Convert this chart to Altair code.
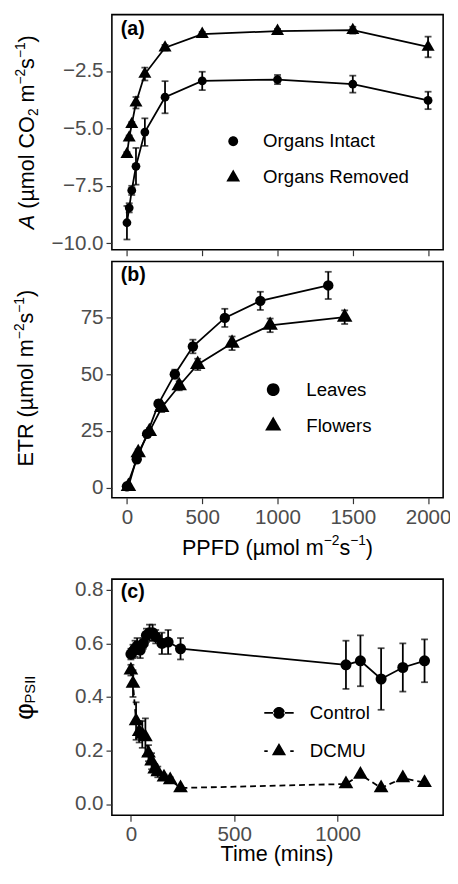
import altair as alt
import pandas as pd

FONT = "Liberation Sans"

# ---------------- panel (a): net CO2 assimilation ----------------
a_groups = ["Organs Intact", "Organs Removed"]
a_ppfd = [0, 15, 32, 60, 119, 253, 500, 1000, 1500, 2000]
a_intact = [-9.11, -8.46, -7.70, -6.65, -5.16, -3.64, -2.93, -2.87, -3.07, -3.78]
a_intact_err = [0.73, 0.2, 0.2, 0.8, 0.6, 0.7, 0.4, 0.2, 0.37, 0.38]
a_removed = [-6.13, -5.41, -4.82, -3.88, -2.63, -1.48, -0.89, -0.76, -0.72, -1.45]
a_removed_err = [0.1, 0.1, 0.1, 0.25, 0.28, 0.12, 0.1, 0.1, 0.15, 0.45]

# ---------------- panel (b): ETR ----------------
b_groups = ["Leaves", "Flowers"]
b_leaves_ppfd = [0, 65, 134, 210, 318, 438, 650, 886, 1337]
b_leaves = [0.6, 12.5, 23.7, 37.0, 50.0, 62.2, 74.8, 82.3, 89.1]
b_leaves_err = [0.3, 1.5, 1.5, 1.5, 2.0, 3.0, 4.0, 4.0, 6.0]
b_flowers_ppfd = [10, 75, 149, 231, 347, 470, 698, 951, 1446]
b_flowers = [0.5, 15.4, 24.7, 35.3, 44.9, 54.3, 63.6, 71.5, 75.1]
b_flowers_err = [0.3, 1.5, 1.5, 2.0, 2.0, 2.5, 3.0, 3.0, 3.0]

# ---------------- panel (c): PSII yield over time ----------------
c_groups = ["Control", "DCMU"]
c_control_t = [0, 10, 20, 30, 45, 60, 75, 90, 105, 120, 150, 180, 240, 1040, 1110, 1210, 1315, 1420]
c_control = [0.56, 0.57, 0.58, 0.59, 0.575, 0.60, 0.63, 0.64, 0.64, 0.625, 0.60, 0.605, 0.58,
             0.52, 0.535, 0.467, 0.51, 0.535]
c_control_err = [0.02, 0.025, 0.03, 0.03, 0.03, 0.02, 0.025, 0.03, 0.03, 0.025, 0.04, 0.045, 0.04,
                 0.09, 0.095, 0.115, 0.09, 0.08]
c_dcmu_t = [0, 10, 25, 40, 55, 70, 85, 100, 115, 130, 160, 190, 240, 1040, 1110, 1210, 1315, 1420]
c_dcmu = [0.50, 0.45, 0.31, 0.27, 0.26, 0.25, 0.19, 0.16, 0.13, 0.12, 0.10, 0.09, 0.06,
          0.075, 0.11, 0.06, 0.097, 0.08]
c_dcmu_err = [0.02, 0.05, 0.07, 0.04, 0.05, 0.07, 0.03, 0.03, 0.02, 0.02, 0.01, 0.01, 0.005,
              0.005, 0.005, 0.005, 0.005, 0.005]

# ---------------- titles (pieces: text, role) ----------------
a_ytitle = [("A", "ital"), (" (µmol CO", "main"), ("2", "sub"), (" m", "main"), ("−2", "sup"),
            ("s", "main"), ("−1", "sup"), (")", "main")]
b_ytitle = [("ETR (µmol m", "main"), ("−2", "sup"), ("s", "main"), ("−1", "sup"), (")", "main")]
c_ytitle = [("φ", "phi"), ("PSII", "small")]
b_xtitle = [("PPFD (µmol m", "main"), ("−2", "sup"), ("s", "main"), ("−1", "sup"), (")", "main")]
c_xtitle = [("Time (mins)", "main")]
tags = ["(a)", "(b)", "(c)"]

# Arial / Liberation Sans advance widths (per 1000 em)
ADV = {" ": 278, "(": 333, ")": 333, "µ": 576, "m": 833, "o": 556, "l": 222, "C": 722, "O": 778,
       "s": 500, "A": 667, "2": 556, "1": 556, "−": 584, "E": 667, "T": 611, "R": 722, "P": 667,
       "F": 611, "D": 722, "S": 667, "I": 278, "φ": 640, "i": 222, "e": 556, "n": 556}
ROLE = {"main": (22, 0, "normal"), "ital": (22, 0, "italic"), "sup": (14, 10, "normal"),
        "sub": (14, -4, "normal"), "phi": (26, 0, "normal"), "small": (15, -2, "normal")}

TRI = "M0,-1.155L1,0.577L-1,0.577Z"


def circ(r):
    return f"M{-r},0A{r},{r} 0 1,0 {r},0A{r},{r} 0 1,0 {-r},0Z"


def tri(w):
    r = w / 2
    return f"M0,{-1.155 * r:.2f}L{r:.2f},{0.577 * r:.2f}L{-r:.2f},{0.577 * r:.2f}Z"


def bar(x0, x1, t=0.9):
    return f"M{x0},{-t}L{x1},{-t}L{x1},{t}L{x0},{t}Z"


def make_df(groups, xs, ys, errs):
    rows = []
    for g, x, y, e in zip(groups, xs, ys, errs):
        for xi, yi, ei in zip(x, y, e):
            rows.append({"g": g, "x": xi, "y": yi, "lo": yi - ei, "hi": yi + ei})
    return pd.DataFrame(rows)


def text_layer(txt, x, y, **kw):
    return alt.Chart(pd.DataFrame({"t": [txt]})).mark_text(font=FONT, color="black", **kw).encode(
        x=alt.value(x), y=alt.value(y), text="t:N")


def adv(s, size):
    return sum(ADV[c] for c in s) / 1000 * size


def rich(pieces, cx, cy, vertical):
    """Lay out a title made of pieces (sub/superscripts) centred at cx (horizontal) or cy (vertical)."""
    widths = [adv(t, ROLE[r][0]) for t, r in pieces]
    total = sum(widths)
    out = []
    pos = (cy + total / 2) if vertical else (cx - total / 2)
    for (t, r), w in zip(pieces, widths):
        size, raise_, style = ROLE[r]
        lead = adv(t[:len(t) - len(t.lstrip(" "))], size)
        s = t.strip(" ")
        if vertical:
            out.append(text_layer(s, cx - raise_, pos - lead, angle=270, align="left",
                                  baseline="alphabetic", fontSize=size, fontStyle=style))
            pos -= w
        else:
            out.append(text_layer(s, pos + lead, cy - raise_, align="left", baseline="alphabetic",
                                  fontSize=size, fontStyle=style))
            pos += w
    return out


def panel(df, groups, sizes, dashes, xdom, xticks, xlabels, ydom, yticks, yfmt,
          legend_paths, legend_opts, tag, tag_y, extra, height):
    xscale = alt.Scale(domain=xdom, nice=False, zero=False)
    yscale = alt.Scale(domain=ydom, nice=False, zero=False)
    xaxis = alt.Axis(values=xticks, labels=xlabels, title=None, grid=False, domain=False, format="d")
    yaxis = alt.Axis(values=yticks, format=yfmt, title=None, grid=False, domain=False)
    base = alt.Chart(df)
    X = alt.X("x:Q", scale=xscale, axis=xaxis)
    Y = alt.Y("y:Q", scale=yscale, axis=yaxis)
    layers = []
    for g, dash in zip(groups, dashes):
        kw = {"strokeDash": dash} if dash else {}
        layers.append(base.transform_filter(alt.datum.g == g)
                      .mark_line(color="black", strokeWidth=1.8, **kw).encode(x=X, y=Y))
    layers.append(base.mark_errorbar(ticks=True, size=7, thickness=1.8, color="black").encode(
        x=X, y=alt.Y("lo:Q", scale=yscale, axis=yaxis), y2="hi:Q"))
    for g, shp, sz in zip(groups, ["circle", TRI], sizes):
        layers.append(base.transform_filter(alt.datum.g == g)
                      .mark_point(shape=shp, size=sz, filled=True, color="black", opacity=1)
                      .encode(x=X, y=Y))
    leg_df = pd.DataFrame({"g": groups})
    layers.append(alt.Chart(leg_df).mark_point(filled=True, color="black", opacity=0)
                  .encode(x=alt.value(169), y=alt.value(height / 2),
                          shape=alt.Shape("g:N", scale=alt.Scale(domain=groups, range=legend_paths),
                                          legend=alt.Legend(orient="none", title=None, symbolSize=4,
                                                            symbolOpacity=1, symbolFillColor="black",
                                                            symbolStrokeWidth=0,
                                                            labelFont=FONT, labelFontSize=19,
                                                            labelColor="black", padding=0,
                                                            **legend_opts))))
    layers.append(text_layer(tag, 9, tag_y, align="left", baseline="middle", fontSize=20,
                             fontWeight="bold"))
    layers.extend(extra)
    return alt.layer(*layers).properties(width=338, height=height).resolve_scale(shape="independent")


# ---- (a)
df_a = make_df(a_groups, [a_ppfd, a_ppfd], [a_intact, a_removed], [a_intact_err, a_removed_err])
pa = panel(df_a, a_groups, [80, 177], [None, None], [-100, 2100],
           [0, 500, 1000, 1500, 2000], False, [-10.29, -0.04], [-10, -7.5, -5, -2.5], ".1f",
           [circ(5), tri(14)],
           dict(legendX=114.3, legendY=119.7, labelOffset=21, rowPadding=17),
           tags[0], 15, rich(a_ytitle, -79, 120, True), 240)

# ---- (b)
df_b = make_df(b_groups, [b_leaves_ppfd, b_flowers_ppfd], [b_leaves, b_flowers],
               [b_leaves_err, b_flowers_err])
pb = panel(df_b, b_groups, [113, 250], [None, None], [-100, 2100],
           [0, 500, 1000, 1500, 2000], True, [-4.45, 99.6], [0, 25, 50, 75], "d",
           [circ(6.5), tri(16.5)],
           dict(legendX=155.1, legendY=121.2, labelOffset=24.3, rowPadding=16),
           tags[1], 14,
           rich(b_ytitle, -80, 119, True) + rich(b_xtitle, 169, 299.4, False), 241)

# ---- (c)
df_c = make_df(c_groups, [c_control_t, c_dcmu_t], [c_control, c_dcmu], [c_control_err, c_dcmu_err])
leg_c = [circ(6) + bar(-15, -5) + bar(5, 15),
         tri(14.5) + bar(-15, -11.5) + bar(11.5, 15)]
pc = panel(df_c, c_groups, [127, 225], [None, [6, 4]], [-92, 1510],
           [0, 500, 1000], True, [-0.042, 0.84], [0, 0.2, 0.4, 0.6, 0.8], ".1f",
           leg_c,
           dict(legendX=161, legendY=127, labelOffset=22, rowPadding=19),
           tags[2], 13,
           rich(c_ytitle, -80, 121, True) + rich(c_xtitle, 169, 287.5, False), 241)

chart = alt.vconcat(alt.vconcat(pa, pb, spacing=3), pc, spacing=18).resolve_scale(
    shape="independent").resolve_legend(shape="independent").properties(
    padding={"left": 4, "top": -3, "right": -2, "bottom": -8}
).configure_view(stroke="black", strokeWidth=1.6).configure_axis(
    labelFont=FONT, labelFontSize=21, labelColor="#4D4D4D", labelPadding=3,
    tickColor="#333333", tickWidth=1.2, tickSize=6
)

chart.save("out.html", embed_options={"renderer": "svg", "actions": False})
